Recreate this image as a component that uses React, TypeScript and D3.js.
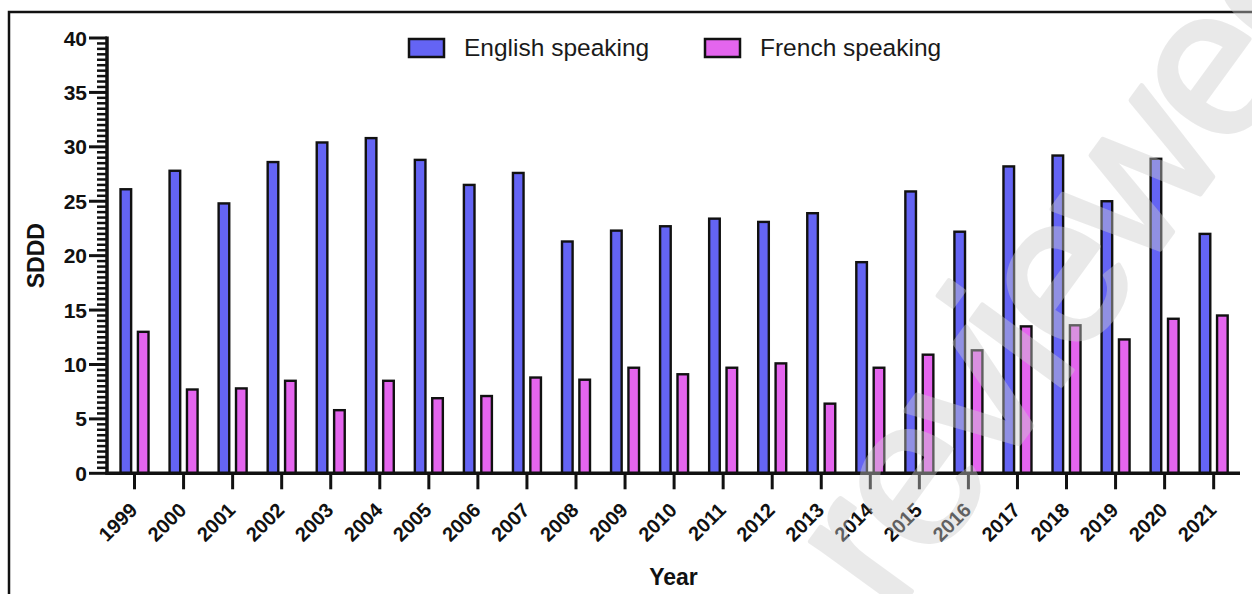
import React from "react";
import * as d3 from "d3";

// Yearly SDDD by language group
const years = [
  "1999", "2000", "2001", "2002", "2003", "2004", "2005", "2006", "2007", "2008", "2009", "2010",
  "2011", "2012", "2013", "2014", "2015", "2016", "2017", "2018", "2019", "2020", "2021",
];
const englishSpeaking = [
  26.1, 27.8, 24.8, 28.6, 30.4, 30.8, 28.8, 26.5, 27.6, 21.3, 22.3, 22.7,
  23.4, 23.1, 23.9, 19.4, 25.9, 22.2, 28.2, 29.2, 25.0, 28.9, 22.0,
];
const frenchSpeaking = [
  13.0, 7.7, 7.8, 8.5, 5.8, 8.5, 6.9, 7.1, 8.8, 8.6, 9.7, 9.1,
  9.7, 10.1, 6.4, 9.7, 10.9, 11.3, 13.5, 13.6, 12.3, 14.2, 14.5,
];
const seriesNames = ["English speaking", "French speaking"];
const seriesColors = ["#6464F4", "#E465EE"];
const yMajorTicks = [0, 5, 10, 15, 20, 25, 30, 35, 40];

const W = 1252;
const H = 594;
const FONT = "'Liberation Sans', Arial, Helvetica, sans-serif";

export default function App() {
  const x = d3.scaleBand<string>().domain(years).range([110, 1238.2]).padding(0);
  const y = d3.scaleLinear().domain([0, 40]).range([473.3, 38]);
  const inner = d3
    .scaleBand<string>()
    .domain(seriesNames)
    .range([x.bandwidth() / 2 - 14, x.bandwidth() / 2 + 14])
    .paddingInner(0.39);

  const minorTicks = d3.range(0, 40.001, 0.5).filter((v) => Math.abs(v % 5) > 1e-6);
  const seriesValues = [englishSpeaking, frenchSpeaking];
  const axisX = 107;
  const axisY = y(0);

  return (
    <div style={{ position: "absolute", left: 0, top: 0 }}>
      <svg width={W} height={H} style={{ display: "block", background: "#fff" }}>
        {/* outer frame */}
        <rect x={9} y={12} width={W + 40} height={H + 40} fill="none" stroke="#111" strokeWidth={2.5} />

        {/* legend */}
        {seriesNames.map((name, i) => {
          const lx = i === 0 ? 409 : 705;
          return (
            <g key={name}>
              <rect x={lx} y={39} width={35} height={18} fill={seriesColors[i]} stroke="#111" strokeWidth={2.5} />
              <text x={lx + 55} y={56} fontFamily={FONT} fontSize={24.5} fill="#1a1a1a">
                {name}
              </text>
            </g>
          );
        })}

        {/* bars */}
        {years.map((yr, i) => (
          <g key={yr} transform={`translate(${x(yr)},0)`}>
            {seriesNames.map((s, k) => {
              const v = seriesValues[k][i];
              return (
                <rect
                  key={s}
                  x={inner(s)}
                  y={y(v)}
                  width={inner.bandwidth()}
                  height={axisY - y(v)}
                  fill={seriesColors[k]}
                  stroke="#111"
                  strokeWidth={2.4}
                />
              );
            })}
          </g>
        ))}

        {/* y axis */}
        <line x1={axisX} x2={axisX} y1={y(40) - 1.5} y2={axisY + 1.5} stroke="#111" strokeWidth={3.5} />
        {minorTicks.map((v) => (
          <line key={`m${v}`} x1={axisX - 10} x2={axisX} y1={y(v)} y2={y(v)} stroke="#111" strokeWidth={2.5} />
        ))}
        {yMajorTicks.map((v) => (
          <g key={`t${v}`}>
            <line x1={axisX - 18} x2={axisX} y1={y(v)} y2={y(v)} stroke="#111" strokeWidth={3} />
            <text
              x={axisX - 20}
              y={y(v)}
              dy="0.36em"
              textAnchor="end"
              fontFamily={FONT}
              fontWeight="bold"
              fontSize={21}
              fill="#111"
            >
              {v}
            </text>
          </g>
        ))}
        <text
          transform={`translate(44,${(y(0) + y(40)) / 2}) rotate(-90)`}
          textAnchor="middle"
          fontFamily={FONT}
          fontWeight="bold"
          fontSize={23}
          fill="#111"
        >
          SDDD
        </text>

        {/* x axis */}
        <line x1={axisX - 1.5} x2={1240} y1={axisY} y2={axisY} stroke="#111" strokeWidth={3.5} />
        {years.map((yr) => {
          const cx = (x(yr) as number) + x.bandwidth() / 2;
          return (
            <g key={`x${yr}`}>
              <line x1={cx} x2={cx} y1={axisY} y2={axisY + 16} stroke="#111" strokeWidth={3} />
              <text
                transform={`translate(${cx + 4},${axisY + 38}) rotate(-45)`}
                textAnchor="end"
                fontFamily={FONT}
                fontWeight="bold"
                fontSize={20}
                fill="#111"
              >
                {yr}
              </text>
            </g>
          );
        })}
        <text
          x={(axisX + 1240) / 2}
          y={585}
          textAnchor="middle"
          fontFamily={FONT}
          fontWeight="bold"
          fontSize={23}
          fill="#111"
        >
          Year
        </text>

        {/* watermark */}
        <g opacity={0.42}>
          <text
            transform="translate(892,618) rotate(-54)"
            fontFamily={FONT}
            fontSize={210}
            letterSpacing={-6}
            fill="rgb(205,205,205)"
            stroke="rgb(205,205,205)"
            strokeWidth={5}
            strokeLinejoin="round"
          >
            reviewed
          </text>
        </g>
      </svg>
    </div>
  );
}
